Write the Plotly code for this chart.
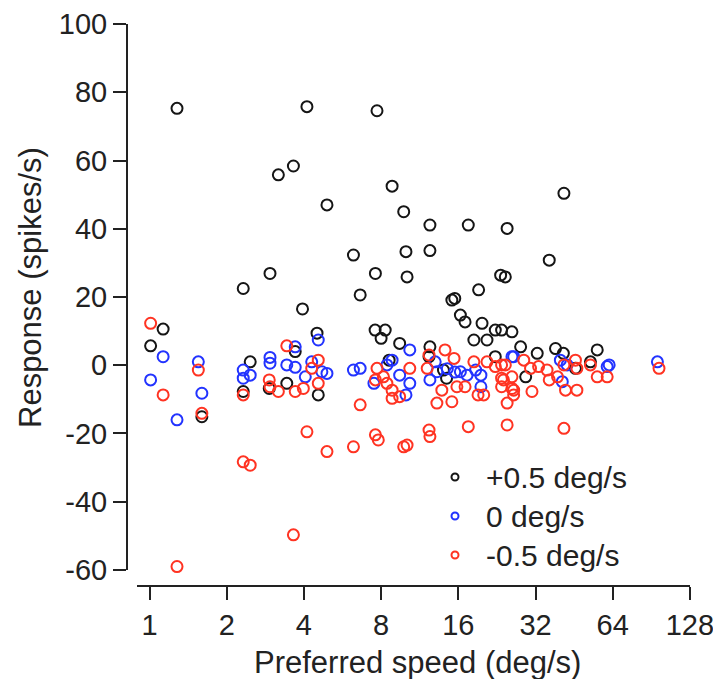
import plotly.graph_objects as go

# ---- data ----
pos_x = [1.01, 1.13, 1.28, 1.6, 2.32, 2.47, 2.32, 2.95, 2.93, 3.18, 3.43, 3.64, 3.7, 3.95,
         4.11, 4.5, 4.55, 4.92, 6.24, 6.63, 7.6, 7.71, 7.58, 8.3, 8.0, 8.6, 8.83, 9.45,
         9.8, 10.0, 10.1, 12.4, 12.4, 12.3, 12.4, 14.0, 14.4, 15.1, 15.5, 16.3, 17.0,
         17.5, 18.4, 19.2, 19.8, 20.7, 22.3, 23.6, 25.9, 22.3, 23.4, 24.4, 24.8, 28.0,
         29.3, 32.5, 36.2, 38.3, 41.1, 41.3, 45.8, 52.4, 55.7]
pos_y = [5.7, 10.6, 75.3, -15.1, 22.5, 1.0, -7.7, 26.9, -6.8, 55.8, -5.3, 58.4, 4.0, 16.5,
         75.8, 9.4, -8.7, 47.0, 32.3, 20.6, 26.9, 74.6, 10.3, 10.3, 7.9, 1.5, 52.5, 6.4,
         45.0, 33.3, 25.9, 41.1, 33.6, 2.5, 5.4, -1.4, -3.8, 19.1, 19.6, 14.7, 12.7,
         41.1, 7.4, 22.1, 12.3, 7.4, 10.3, 10.3, 9.8, 2.5, 26.4, 25.9, 40.1, 5.4,
         -3.4, 3.5, 30.8, 4.9, 3.5, 50.4, -0.9, 1.0, 4.5]

zero_x = [1.01, 1.13, 1.28, 1.55, 1.6, 2.32, 2.47, 2.32, 2.95, 2.95, 3.43, 3.7, 3.7, 4.05,
          4.29, 4.55, 4.7, 4.92, 6.24, 6.63, 8.43, 8.83, 7.5, 9.45, 10.35, 10.35, 10.0,
          13.0, 13.2, 12.4, 14.5, 15.5, 16.3, 17.3, 18.7, 19.6, 19.6, 26.3, 25.9, 40.0,
          42.5, 40.7, 60.9, 62.0, 95.6]
zero_y = [-4.3, 2.5, -16.0, 1.0, -8.2, -1.4, -2.9, -3.8, 2.3, 0.6, 0.1, 5.4, -0.6, -3.4,
          1.0, 7.4, -1.9, -2.4, -1.4, -0.9, 0.1, 1.5, -5.3, -2.9, 4.5, -5.3, -8.7,
          1.0, -1.9, -4.3, -1.0, -2.0, -1.9, -2.9, -1.4, -2.9, -6.3, 2.5, 2.5, 1.5,
          0.1, -4.8, -0.4, 0.1, 1.0]

neg_x = [1.01, 1.13, 1.28, 1.55, 1.6, 2.32, 2.32, 2.47, 3.43, 2.93, 2.95, 3.18, 3.7, 3.98,
         4.55, 4.29, 4.55, 4.11, 3.64, 4.92, 6.24, 6.63, 7.6, 7.8, 9.8, 10.1, 12.3, 12.4,
         7.71, 8.17, 7.6, 8.43, 8.83, 8.83, 9.45, 10.35, 12.3, 14.2, 15.4, 12.1, 13.8,
         13.2, 15.1, 17.0, 15.8, 18.4, 20.7, 19.1, 20.1, 17.5, 22.3, 23.6, 23.6, 25.9,
         23.6, 26.3, 24.8, 24.8, 24.4, 28.8, 30.6, 32.9, 35.5, 41.3, 45.8, 46.4, 52.4,
         55.7, 60.9, 36.2, 39.0, 41.9, 46.4, 31.0, 24.0, 25.9, 26.3, 41.3, 97.0]
neg_y = [12.3, -8.7, -59.0, -1.4, -14.1, -8.7, -28.3, -29.3, 5.7, -4.3, -6.3, -7.7, -7.7, -6.8,
         1.5, -0.9, -5.3, -19.5, -49.7, -25.3, -23.9, -11.6, -20.4, -21.9, -23.9, -23.4, -19.0, -20.9,
         -0.9, -3.4, -4.3, -5.3, -7.3, -9.7, -9.2, -0.9, 3.0, 4.5, 2.0, -0.9, -7.3,
         -11.1, -10.7, -6.3, -6.3, 1.0, 1.0, -8.7, -8.7, -18.0, -0.4, 0.1, -3.8, -3.4,
         -6.3, -7.3, -11.1, -17.5, 0.1, 1.5, -0.9, -0.4, -1.4, 0.1, 1.5, -0.9, 0.1,
         -3.4, -3.4, -4.3, -3.4, -7.3, -7.3, -7.7, -4.3, -6.8, -8.7, -18.5, -0.9]

series_names = ["+0.5 deg/s", "0 deg/s", "-0.5 deg/s"]
series_colors = ["#151515", "#2233ff", "#ff3322"]

x_ticks = [1, 2, 4, 8, 16, 32, 64, 128]
y_ticks = [-60, -40, -20, 0, 20, 40, 60, 80, 100]
y_tick_text = ["-60", "-40", "-20", "0", "20", "40", "60", "80", "100"]

FONT = "Liberation Sans, Arial, sans-serif"
INK = "#222222"

W, H = 713, 679
L, R, T, B = 127, 23, 24, 93
PW, PH = W - L - R, H - T - B


def px(xp):
    return (xp - L) / PW


def py(yp):
    return 1 - (yp - T) / PH


fig = go.Figure()
for xs, ys, col, name in zip([pos_x, zero_x, neg_x], [pos_y, zero_y, neg_y],
                             series_colors, series_names):
    fig.add_trace(go.Scatter(
        x=xs, y=ys, mode="markers", name=name, showlegend=False,
        marker=dict(symbol="circle-open", size=11, color=col, line=dict(width=2, color=col)),
    ))

# manual legend (small circle + label)
legend_rows_y = [477, 516, 555]
shapes = [
    dict(type="line", xref="paper", yref="y", x0=0, x1=0, y0=-60, y1=100,
         line=dict(color=INK, width=2)),
    dict(type="line", xref="paper", yref="paper", x0=px(137), x1=1,
         y0=0, y1=0, line=dict(color=INK, width=2)),
]
annotations = [
    dict(text="Preferred speed (deg/s)", xref="paper", yref="paper",
         x=px(417), y=py(662), xanchor="center", yanchor="middle", showarrow=False,
         font=dict(size=31, color=INK)),
    dict(text="Response (spikes/s)", xref="paper", yref="paper",
         x=px(30), y=py(288), xanchor="center", yanchor="middle", showarrow=False,
         textangle=-90, font=dict(size=31, color=INK)),
]
for name, col, yrow in zip(series_names, series_colors, legend_rows_y):
    shapes.append(dict(type="circle", xref="paper", yref="paper",
                       xsizemode="pixel", ysizemode="pixel",
                       xanchor=px(455), yanchor=py(yrow),
                       x0=-3.5, x1=3.5, y0=-3.5, y1=3.5,
                       line=dict(color=col, width=2)))
    annotations.append(dict(text=name, xref="paper", yref="paper",
                            x=px(484), y=py(yrow), xanchor="left", yanchor="middle",
                            showarrow=False, font=dict(size=30, color=INK)))

fig.update_layout(
    width=W, height=H,
    margin=dict(l=L, r=R, t=T, b=B, pad=0, autoexpand=False),
    paper_bgcolor="white", plot_bgcolor="white",
    font=dict(family=FONT, size=29, color=INK),
    showlegend=False,
    xaxis=dict(
        type="log", range=[-0.0878, 2.1076],
        tickvals=x_ticks, ticktext=[str(v) for v in x_ticks],
        ticks="outside", ticklen=13, tickwidth=2, tickcolor=INK,
        ticklabeloverflow="allow", automargin=False,
        showline=False, showgrid=False, zeroline=False,
        tickfont=dict(size=29, color=INK),
    ),
    yaxis=dict(
        range=[-64.7, 100.02], tickvals=y_ticks, ticktext=y_tick_text,
        ticks="outside", ticklen=13, tickwidth=2, tickcolor=INK,
        ticklabeloverflow="allow", automargin=False,
        showline=False, showgrid=False, zeroline=False,
        tickfont=dict(size=29, color=INK),
    ),
    shapes=shapes,
    annotations=annotations,
)

fig.write_html("out.html")
